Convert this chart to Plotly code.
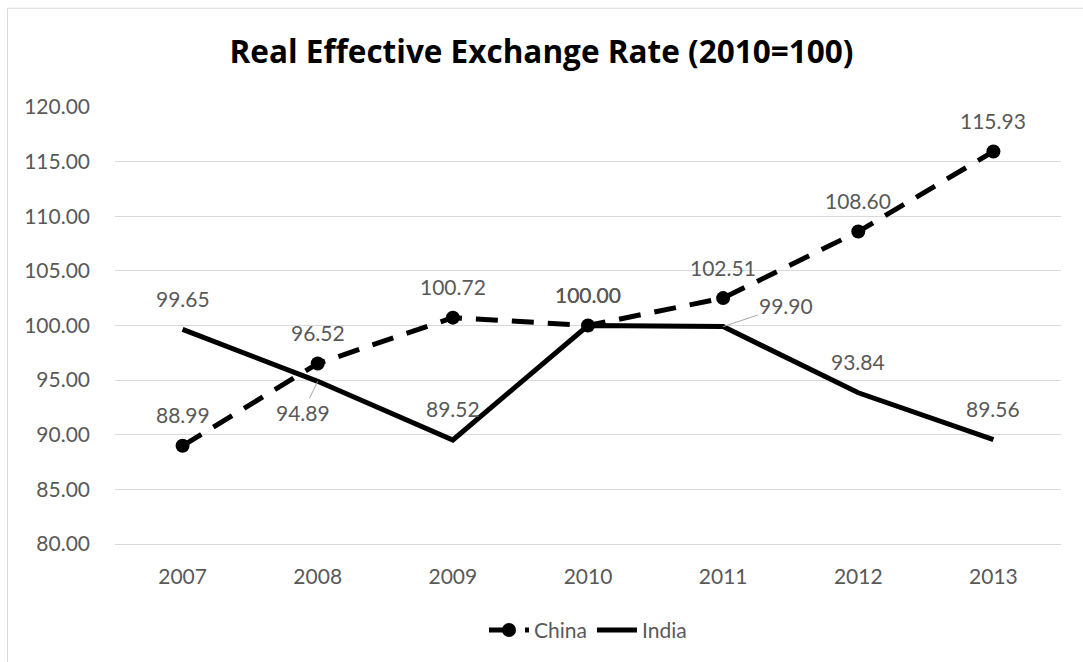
import plotly.graph_objects as go

years = ["2007", "2008", "2009", "2010", "2011", "2012", "2013"]
china = [88.99, 96.52, 100.72, 100.00, 102.51, 108.60, 115.93]
india = [99.65, 94.89, 89.52, 100.00, 99.90, 93.84, 89.56]
y_ticks = [80, 85, 90, 95, 100, 105, 110, 115, 120]
title_text = "Real Effective Exchange Rate (2010=100)"

FONT = "Lato, Carlito, Calibri, sans-serif"
TITLE_FONT = "Open Sans, Lato, sans-serif"
GRAY = "#595959"
GRID = "#d9d9d9"
LBL_SIZE = 21

fig = go.Figure()
fig.add_trace(go.Scatter(
    x=years, y=china, name="China", mode="lines+markers",
    line=dict(color="black", width=5, dash="22px,14px"),
    marker=dict(color="black", size=14, symbol="circle"),
))
fig.add_trace(go.Scatter(
    x=years, y=india, name="India", mode="lines",
    line=dict(color="black", width=5),
))

# data labels (default: above the point); leader-line exceptions for India
leader = {("India", 1): (-15, 31), ("India", 4): (63, -21)}
annotations = []
for name, vals in (("China", china), ("India", india)):
    for i, v in enumerate(vals):
        if (name, i) in leader:
            ax, ay = leader[(name, i)]
            annotations.append(dict(
                x=i, y=v, xref="x", yref="y", text=f"{v:.2f}",
                showarrow=True, arrowhead=0, arrowwidth=1, arrowcolor="#a6a6a6",
                ax=ax, ay=ay, font=dict(family=FONT, size=LBL_SIZE, color=GRAY),
            ))
        else:
            annotations.append(dict(
                x=i, y=v, xref="x", yref="y", text=f"{v:.2f}",
                showarrow=False, yshift=31,
                font=dict(family=FONT, size=LBL_SIZE, color=GRAY),
            ))

fig.update_layout(
    width=1083, height=662,
    margin=dict(l=115, r=22, t=107, b=117),
    paper_bgcolor="white", plot_bgcolor="white",
    title=dict(text=f"<b>{title_text}</b>", x=0.5, xanchor="center",
               y=1 - 52 / 662, yanchor="middle",
               font=dict(family=TITLE_FONT, size=31.5, color="black")),
    font=dict(family=FONT, size=LBL_SIZE, color=GRAY),
    showlegend=True,
    legend=dict(orientation="h", x=0.5, xanchor="center", y=-0.195, yanchor="middle",
                font=dict(family=FONT, size=LBL_SIZE, color=GRAY),
                itemwidth=40, tracegroupgap=0),
    xaxis=dict(type="category", range=[-0.5, 6.5], showgrid=False,
               showline=True, linecolor=GRID, linewidth=1,
               ticks="", ticklabelstandoff=14,
               tickfont=dict(family=FONT, size=LBL_SIZE, color=GRAY)),
    yaxis=dict(range=[80, 120], tickvals=y_ticks,
               ticktext=[f"{t:.2f}" for t in y_ticks],
               showgrid=True, gridcolor=GRID, gridwidth=1,
               zeroline=False, showline=False, ticks="",
               ticklabelstandoff=24,
               tickfont=dict(family=FONT, size=LBL_SIZE, color=GRAY)),
    annotations=annotations,
    shapes=[dict(type="rect", xref="paper", yref="paper",
                 x0=(7.5 - 115) / 946, x1=(1095 - 115) / 946,
                 y0=-(680 - 545) / 438, y1=1 + (107 - 8) / 438,
                 line=dict(color="#d9d9d9", width=1), fillcolor="rgba(0,0,0,0)",
                 layer="below")],
)

fig.write_html("out.html", config={"displayModeBar": False},
               post_script="document.body.style.margin='0';document.body.style.padding='0';")
